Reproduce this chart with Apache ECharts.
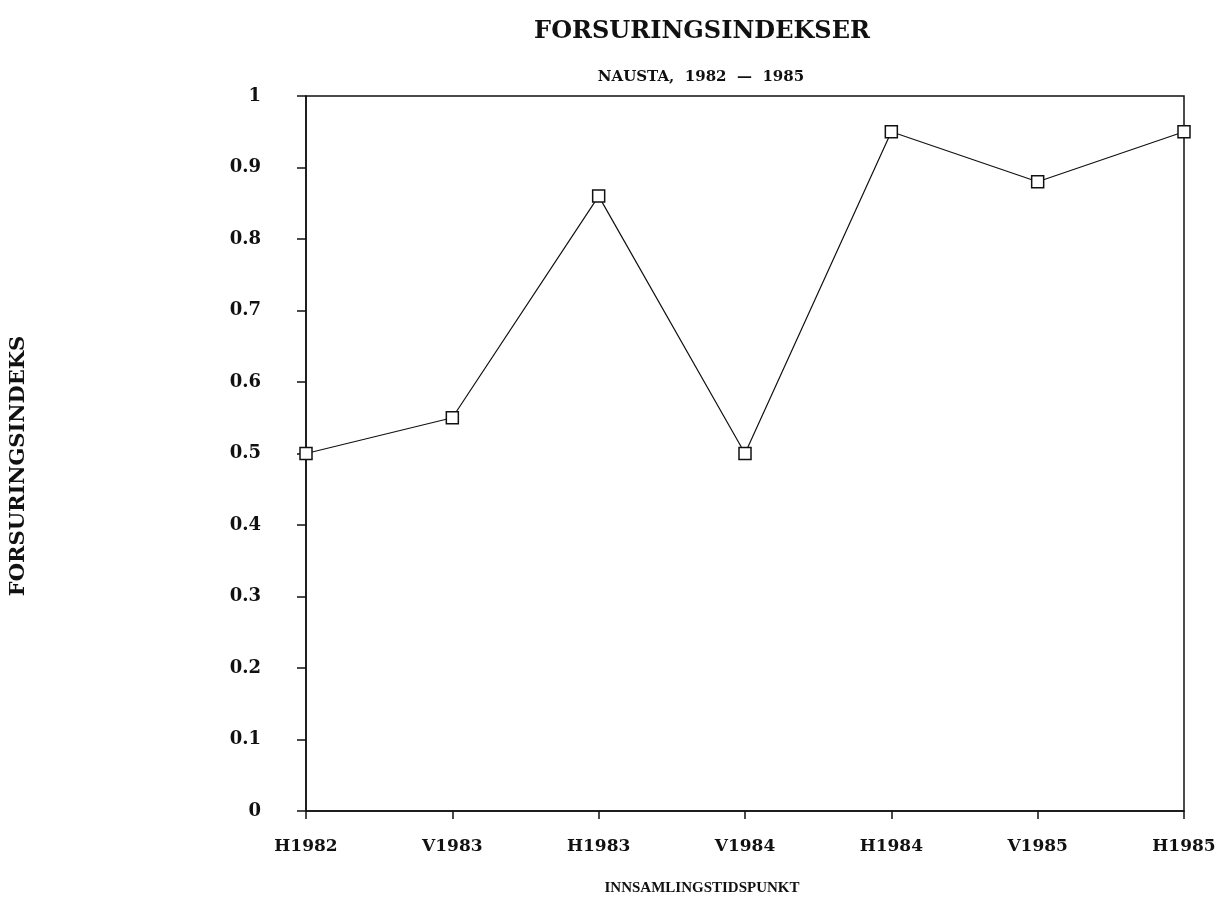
<!DOCTYPE html>
<html>
<head>
<meta charset="utf-8">
<script src="https://cdn.jsdelivr.net/npm/echarts@6/dist/echarts.min.js"></script>
<style>html,body{margin:0;padding:0;background:#fff;}#c{width:1226px;height:904px;}</style>
</head>
<body>
<div id="c"></div>
<script>
const titleText = 'FORSURINGSINDEKSER';
const subtitleText = 'NAUSTA,  1982  \u2014  1985';
const xName = 'INNSAMLINGSTIDSPUNKT';
const yName = 'FORSURINGSINDEKS';
const categories = ['H1982', 'V1983', 'H1983', 'V1984', 'H1984', 'V1985', 'H1985'];
const values = [0.50, 0.55, 0.86, 0.50, 0.95, 0.88, 0.95];

const SERIF = '"DejaVu Serif", "Liberation Serif", serif';
const SERIF2 = '"Liberation Serif", "DejaVu Serif", serif';
const chart = echarts.init(document.getElementById('c'), null, {renderer: 'canvas'});
chart.setOption({
  backgroundColor: '#ffffff',
  animation: false,
  title: [
    {text: titleText, left: 697, top: 15, textAlign: 'center',
     textStyle: {fontFamily: SERIF, fontWeight: 'bold', fontSize: 24, color: '#111'}},
    {text: subtitleText, left: 696, top: 65, textAlign: 'center',
     textStyle: {fontFamily: SERIF, fontWeight: 'bold', fontSize: 15, color: '#111'}}
  ],
  grid: {left: 303, right: 42, top: 96, bottom: 93, show: true, borderColor: '#111', borderWidth: 1.5, backgroundColor: 'transparent'},
  xAxis: {
    type: 'category', data: categories, boundaryGap: false,
    name: xName, nameLocation: 'middle', nameGap: 70,
    nameTextStyle: {fontFamily: SERIF2, fontWeight: 'bold', fontSize: 15, color: '#111', padding: [0, 86, 0, 0]},
    axisLine: {lineStyle: {color: '#111', width: 1.5}},
    axisTick: {show: true, length: 8, inside: false, lineStyle: {color: '#111', width: 1.5}},
    axisLabel: {fontFamily: SERIF, fontWeight: 'bold', fontSize: 17, color: '#111', margin: 27},
    splitLine: {show: false}
  },
  yAxis: {
    type: 'value', min: 0, max: 1, interval: 0.1,
    name: yName, nameLocation: 'middle', nameGap: 277, nameRotate: 90,
    nameTextStyle: {fontFamily: SERIF, fontWeight: 'bold', fontSize: 21, color: '#111', padding: [0, 25, 0, 0]},
    axisLine: {show: true, lineStyle: {color: '#111', width: 1.5}},
    axisTick: {show: true, length: 9, inside: false, lineStyle: {color: '#111', width: 1.5}},
    axisLabel: {fontFamily: SERIF, fontWeight: 'bold', fontSize: 18, color: '#111', margin: 45,
      formatter: v => String(Math.round(v * 10) / 10)},
    splitLine: {show: false}
  },
  series: [{
    type: 'line', data: values,
    symbol: 'rect', symbolSize: 12,
    lineStyle: {color: '#111', width: 1.2},
    itemStyle: {color: '#fff', borderColor: '#111', borderWidth: 1.5},
    z: 3
  }]
});
</script>
</body>
</html>
